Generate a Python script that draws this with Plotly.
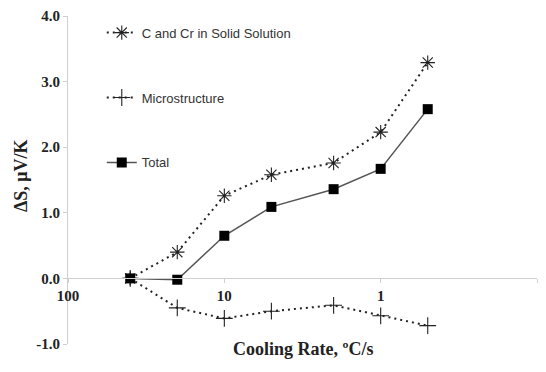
import plotly.graph_objects as go

cooling_rate = [40, 20, 10, 5, 2, 1, 0.5]
c_cr_solid = [0.0, 0.40, 1.26, 1.58, 1.76, 2.23, 3.29]
microstructure = [0.0, -0.45, -0.61, -0.50, -0.41, -0.57, -0.72]
total = [0.0, -0.02, 0.65, 1.09, 1.36, 1.67, 2.58]

x_ticks = [100, 10, 1, 0.1]
x_tick_labels = ["100", "10", "1", "0.1"]
y_ticks = [-1, 0, 1, 2, 3, 4]
y_tick_labels = ["-1.0", "0.0", "1.0", "2.0", "3.0", "4.0"]

serif = "Liberation Serif, Times New Roman, serif"
sans = "Liberation Sans, Arial, sans-serif"

fig = go.Figure()
fig.add_trace(go.Scatter(
    x=cooling_rate, y=c_cr_solid, name="C and Cr in Solid Solution",
    mode="lines+markers", legendgroup="a",
    line=dict(color="#222222", width=2, dash="2px,4px"),
    marker=dict(symbol="asterisk-open", size=12, color="#222222",
                line=dict(width=1.1, color="#222222")),
))
fig.add_trace(go.Scatter(
    x=cooling_rate, y=microstructure, name="Microstructure",
    mode="lines+markers", legendgroup="b",
    line=dict(color="#222222", width=2, dash="2px,4px"),
    marker=dict(symbol="cross-thin-open", size=12, color="#222222",
                line=dict(width=1.1, color="#222222")),
))
fig.add_trace(go.Scatter(
    x=cooling_rate, y=total, name="Total",
    mode="lines+markers", legendgroup="c",
    line=dict(color="#555555", width=1.5),
    marker=dict(symbol="square", size=10, color="#000000"),
))

fig.update_layout(
    width=546, height=372,
    margin=dict(l=68, r=9, t=16, b=28),
    plot_bgcolor="white", paper_bgcolor="white",
    showlegend=True,
    legend=dict(x=0.072, y=0.995, xanchor="left", yanchor="top",
                font=dict(family=sans, size=13, color="#333333"),
                tracegroupgap=45, bgcolor="rgba(0,0,0,0)",
                itemwidth=30),
    xaxis=dict(type="log", range=[2, -1], anchor="free", position=0.2,
               showline=True, linecolor="#d0d0d0", linewidth=1,
               ticks="outside", ticklen=4, tickcolor="#d0d0d0",
               tickvals=x_ticks, ticktext=x_tick_labels,
               tickfont=dict(family=serif, size=15, color="#222222", weight="bold"),
               showgrid=False, zeroline=False),
    yaxis=dict(range=[-1, 4], domain=[0, 1],
               showline=True, linecolor="#d0d0d0", linewidth=1,
               ticks="outside", ticklen=4, tickcolor="#d0d0d0",
               tickvals=y_ticks, ticktext=y_tick_labels,
               tickfont=dict(family=serif, size=15, color="#222222", weight="bold"),
               showgrid=False, zeroline=True, zerolinecolor="#d0d0d0", zerolinewidth=1),
    annotations=[
        dict(text="Cooling Rate, ºC/s", xref="paper", yref="paper",
             x=(303 - 68) / 469, y=-(349 - 344) / 328, xanchor="center", yanchor="middle",
             showarrow=False, font=dict(family=serif, size=18, color="#222222", weight="bold")),
        dict(text="ΔS, μV/K", xref="paper", yref="paper", textangle=-90,
             x=-(68 - 21) / 469, y=(344 - 176) / 328, xanchor="center", yanchor="middle",
             showarrow=False, font=dict(family=serif, size=18, color="#222222", weight="bold")),
    ],
)

fig.write_html("out.html")
